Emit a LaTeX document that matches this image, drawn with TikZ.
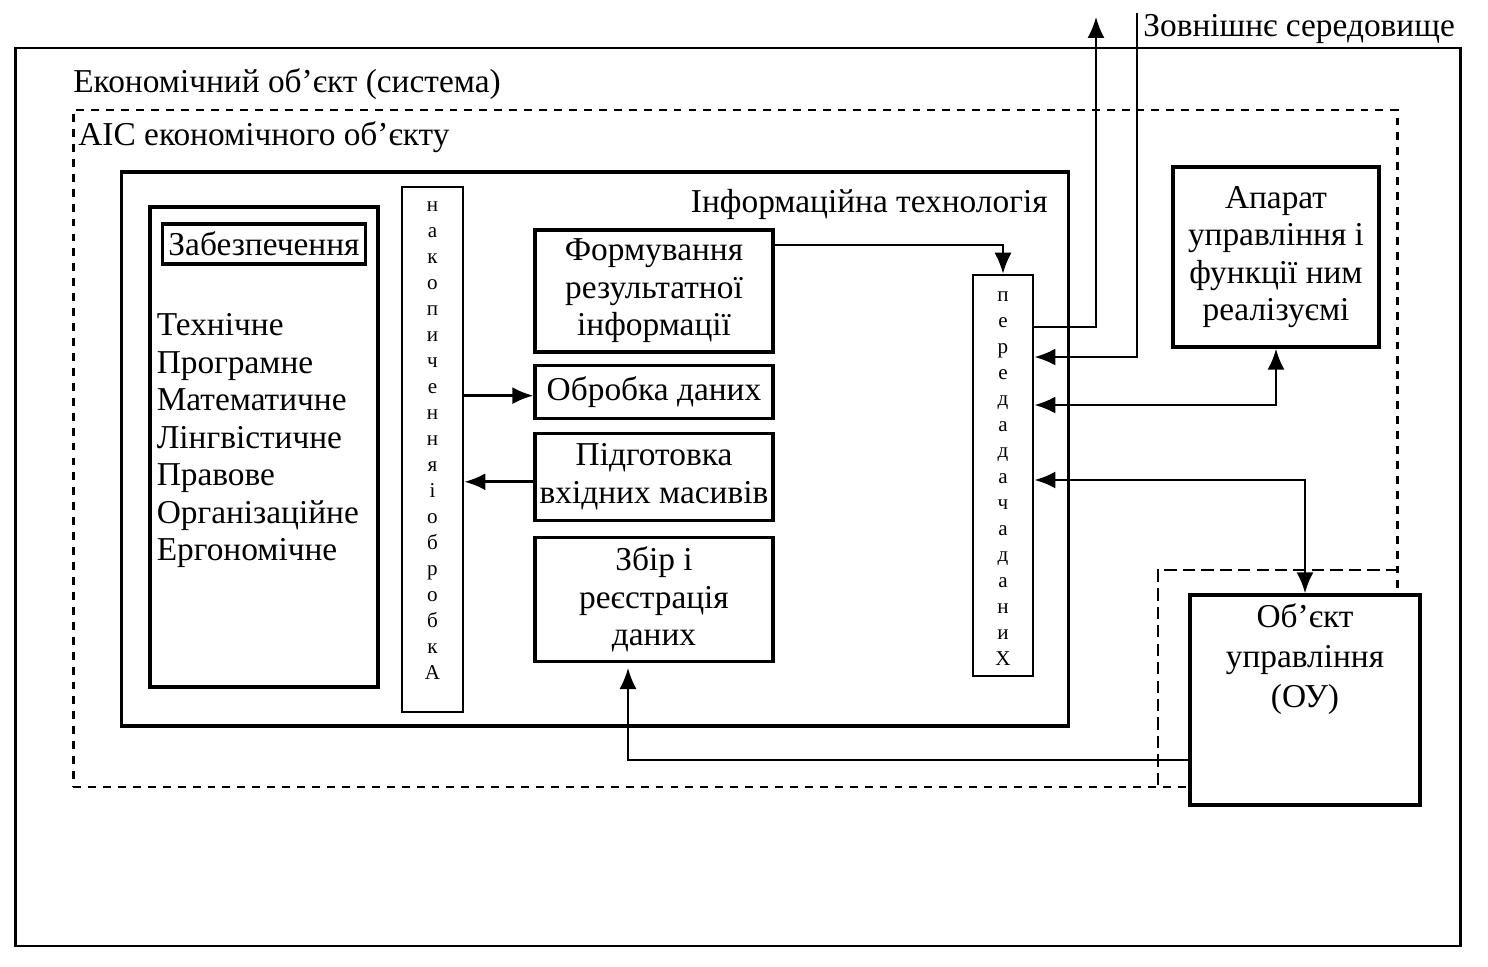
\documentclass[tikz,border=0pt]{standalone}
\usepackage{fontspec}
\setmainfont{Liberation Serif}
\usepackage{tikz}
\usetikzlibrary{positioning}
\usetikzlibrary{arrows.meta}
\newcommand{\bigtxt}{\fontsize{19}{21.3}\selectfont}
\newcommand{\vtxt}{\fontsize{12}{14.8}\selectfont}

\begin{document}
\begin{tikzpicture}[x=0.02cm, y=-0.02cm,
        >={Latex[length=0.42cm, width=0.34cm]},
        box/.style={draw=black, line width=1.8pt, fill=white, inner sep=0pt, align=center, font=\bigtxt},
        lbl/.style={inner sep=0pt, font=\bigtxt},
        vlbl/.style={inner sep=0pt, align=center, font=\vtxt},
        link/.style={->, line width=1.6pt},
        thinlink/.style={->, line width=1.1pt}]
    \useasboundingbox (0,0) rectangle (1488,967);

    % frames
    \node [draw=black, line width=1.6pt, minimum width=28.92cm, minimum height=17.96cm] (econ) at (738,497) {};
    \node [lbl, anchor=base west] (econlbl) at (73,92) {Економічний об'єкт (система)};
    \node [draw=black, line width=1.6pt, dash pattern=on 4.5pt off 4pt, minimum width=26.5cm, minimum height=13.54cm] (ais) at (735.5,448.5) {};
    \node [lbl, anchor=base west] (aislbl) at (78,145) {АІС економічного об'єкту};
    \draw [line width=1.6pt, dash pattern=on 7pt off 3.5pt] (1398,570) -- (1158,570) -- (1158,787);

    \node [box, minimum width=18.96cm, minimum height=11.08cm] (infotech) at (595,449) {};
    \node [lbl, anchor=base east] (infotechlbl) at (1048,212) {Інформаційна технологія};

    % supply
    \node [box, minimum width=4.56cm, minimum height=9.6cm] (zab) at (264,447) {};
    \node [box, minimum width=4.06cm, minimum height=0.8cm, below=0.34cm of zab.north] (zabtitle) {Забезпечення};
    \node [lbl, align=left, below right=2.16cm and 0.16cm of zab.north west] (zablist) {Технічне\\Програмне\\Математичне\\Лінгвістичне\\Правове\\Організаційне\\Ергономічне};

    % storage column
    \node [box, line width=1.5pt, minimum width=1.22cm, minimum height=10.5cm] (nakop) at (432.5,449.5) {};
    \node [vlbl, below=0.32cm of nakop.north] (nakoptxt) {н\\а\\к\\о\\п\\и\\ч\\е\\н\\н\\я\\і\\о\\б\\р\\о\\б\\к\\А};

    % processing steps
    \node [box, minimum width=4.76cm, minimum height=2.44cm] (form) at (654,291) {Формування\\результатної\\інформації};
    \node [box, minimum width=4.76cm, minimum height=1.06cm, below=0.2cm of form] (obr) {Обробка даних};
    \node [box, minimum width=4.76cm, minimum height=1.74cm, below=0.24cm of obr] (pidg) {Підготовка\\вхідних масивів};
    \node [box, minimum width=4.76cm, minimum height=2.48cm, below=0.28cm of pidg] (zbir) {Збір і\\реєстрація\\даних};

    % transfer column
    \node [box, line width=1.5pt, minimum width=1.2cm, minimum height=8.02cm] (pered) at (1003,475.5) {};
    \node [vlbl, below=0.36cm of pered.north] (peredtxt) {п\\е\\р\\е\\д\\а\\д\\а\\ч\\а\\д\\а\\н\\и\\Х};

    % outside blocks
    \node [box, minimum width=4.12cm, minimum height=3.6cm] (apar) at (1276,257) {Апарат\\управління і\\функції ним\\реалізуємі};
    \node [box, minimum width=4.6cm, minimum height=4.2cm] (ou) at (1305,700) {};
    \node [lbl, align=center, font=\fontsize{19}{22.6}\selectfont, below=0.2cm of ou.north] (outxt) {Об'єкт\\управління\\(ОУ)};

    \coordinate (outtop) at (1096,17);
    \coordinate (envtop) at (1137,13);
    \node [lbl, anchor=base west] (envlbl) at (1143,36) {Зовнішнє середовище};

    % connectors
    \path [link] ([yshift=-0.08cm]obr.west -| nakop.east) edge ([yshift=-0.08cm]obr.west);
    \path [link] ([yshift=-0.1cm]pidg.west) edge ([yshift=-0.1cm]pidg.west -| nakop.east);
    \draw [thinlink] ([yshift=0.92cm]form.east) -| (pered.north);
    \draw [thinlink] ([yshift=2.97cm]pered.east) -| (outtop);
    \draw [link] (envtop) |- ([yshift=2.37cm]pered.east);
    \draw [<->, line width=1.6pt] ([yshift=1.41cm]pered.east) -| (apar.south);
    \draw [<->, line width=1.6pt] ([yshift=-0.09cm]pered.east) -| (ou.north);
    \draw [thinlink, shorten >=0.1cm] ([yshift=-1.2cm]ou.west) -| ([xshift=-0.52cm]zbir.south);
\end{tikzpicture}
\end{document}
